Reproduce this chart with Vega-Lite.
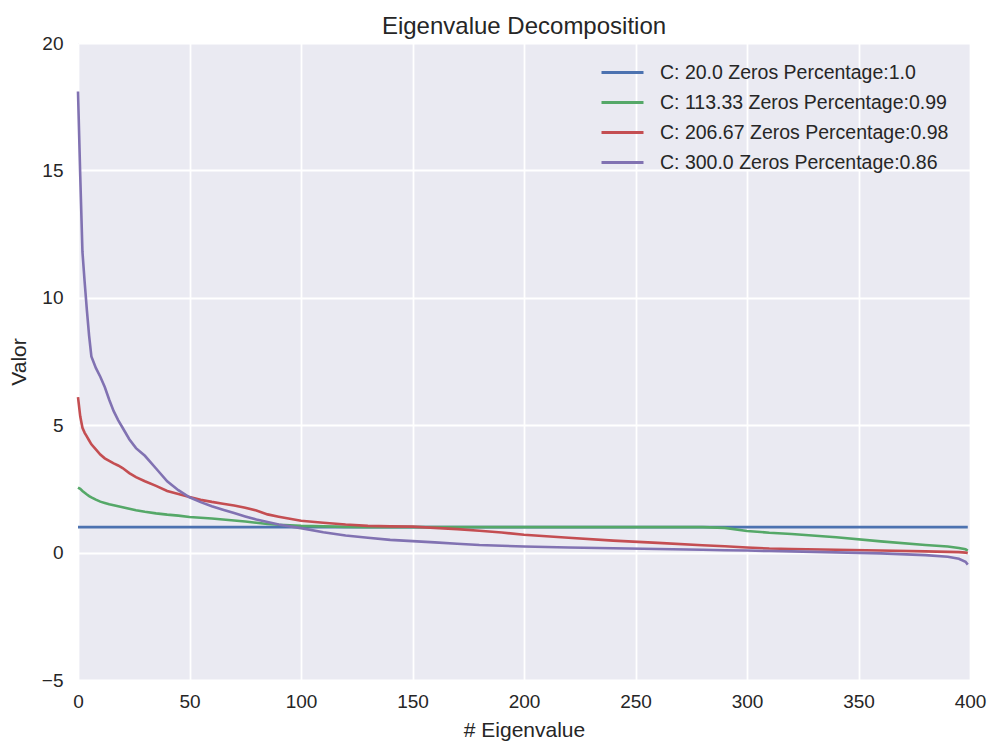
{
  "$schema": "https://vega.github.io/schema/vega-lite/v6.json",
  "width": 892,
  "height": 637,
  "autosize": {"type": "none"},
  "padding": {"left": 78, "top": 43, "right": 22, "bottom": 67},
  "background": "white",
  "title": {"text": "Eigenvalue Decomposition", "fontSize": 24, "font": "Liberation Sans", "fontWeight": "normal", "color": "#262626", "offset": -5},
  "data": {"values": [
    {"i": 0, "s1": 1, "s2": 2.55, "s3": 6.1, "s4": 18.1},
    {"i": 1, "s1": 1, "s2": 2.5, "s3": 5.35, "s4": 14.8},
    {"i": 2, "s1": 1, "s2": 2.42, "s3": 4.9, "s4": 11.8},
    {"i": 3, "s1": 1, "s2": 2.35, "s3": 4.7, "s4": 10.6},
    {"i": 4, "s1": 1, "s2": 2.28, "s3": 4.55, "s4": 9.5},
    {"i": 5, "s1": 1, "s2": 2.22, "s3": 4.4, "s4": 8.5},
    {"i": 6, "s1": 1, "s2": 2.17, "s3": 4.25, "s4": 7.7},
    {"i": 8, "s1": 1, "s2": 2.08, "s3": 4.05, "s4": 7.25},
    {"i": 10, "s1": 1, "s2": 2.0, "s3": 3.85, "s4": 6.9},
    {"i": 12, "s1": 1, "s2": 1.95, "s3": 3.7, "s4": 6.5},
    {"i": 14, "s1": 1, "s2": 1.9, "s3": 3.6, "s4": 6.0},
    {"i": 16, "s1": 1, "s2": 1.86, "s3": 3.5, "s4": 5.55},
    {"i": 18, "s1": 1, "s2": 1.82, "s3": 3.42, "s4": 5.2},
    {"i": 20, "s1": 1, "s2": 1.78, "s3": 3.32, "s4": 4.9},
    {"i": 23, "s1": 1, "s2": 1.72, "s3": 3.12, "s4": 4.45},
    {"i": 26, "s1": 1, "s2": 1.66, "s3": 2.96, "s4": 4.1},
    {"i": 30, "s1": 1, "s2": 1.6, "s3": 2.8, "s4": 3.8},
    {"i": 35, "s1": 1, "s2": 1.54, "s3": 2.62, "s4": 3.3},
    {"i": 40, "s1": 1, "s2": 1.49, "s3": 2.42, "s4": 2.8},
    {"i": 45, "s1": 1, "s2": 1.45, "s3": 2.3, "s4": 2.45},
    {"i": 50, "s1": 1, "s2": 1.4, "s3": 2.18, "s4": 2.17},
    {"i": 55, "s1": 1, "s2": 1.37, "s3": 2.07, "s4": 1.98},
    {"i": 60, "s1": 1, "s2": 1.34, "s3": 1.99, "s4": 1.82},
    {"i": 65, "s1": 1, "s2": 1.3, "s3": 1.92, "s4": 1.68},
    {"i": 70, "s1": 1, "s2": 1.26, "s3": 1.85, "s4": 1.55},
    {"i": 75, "s1": 1, "s2": 1.22, "s3": 1.76, "s4": 1.42},
    {"i": 80, "s1": 1, "s2": 1.17, "s3": 1.65, "s4": 1.3},
    {"i": 85, "s1": 1, "s2": 1.12, "s3": 1.5, "s4": 1.2},
    {"i": 90, "s1": 1, "s2": 1.09, "s3": 1.41, "s4": 1.1},
    {"i": 95, "s1": 1, "s2": 1.07, "s3": 1.33, "s4": 1.03},
    {"i": 100, "s1": 1, "s2": 1.05, "s3": 1.25, "s4": 0.96},
    {"i": 110, "s1": 1, "s2": 1.03, "s3": 1.17, "s4": 0.8},
    {"i": 120, "s1": 1, "s2": 1.01, "s3": 1.1, "s4": 0.67},
    {"i": 130, "s1": 1, "s2": 1.0, "s3": 1.05, "s4": 0.58},
    {"i": 140, "s1": 1, "s2": 1.0, "s3": 1.03, "s4": 0.5},
    {"i": 150, "s1": 1, "s2": 1.0, "s3": 1.02, "s4": 0.45},
    {"i": 160, "s1": 1, "s2": 1.0, "s3": 0.97, "s4": 0.4},
    {"i": 170, "s1": 1, "s2": 1.0, "s3": 0.92, "s4": 0.35},
    {"i": 180, "s1": 1, "s2": 1.0, "s3": 0.86, "s4": 0.3},
    {"i": 190, "s1": 1, "s2": 1.0, "s3": 0.79, "s4": 0.27},
    {"i": 200, "s1": 1, "s2": 1.0, "s3": 0.7, "s4": 0.24},
    {"i": 220, "s1": 1, "s2": 1.0, "s3": 0.58, "s4": 0.2},
    {"i": 240, "s1": 1, "s2": 1.0, "s3": 0.47, "s4": 0.17},
    {"i": 260, "s1": 1, "s2": 1.0, "s3": 0.38, "s4": 0.14},
    {"i": 280, "s1": 1, "s2": 1.0, "s3": 0.29, "s4": 0.11},
    {"i": 290, "s1": 1, "s2": 0.97, "s3": 0.25, "s4": 0.09},
    {"i": 300, "s1": 1, "s2": 0.85, "s3": 0.2, "s4": 0.08},
    {"i": 310, "s1": 1, "s2": 0.78, "s3": 0.16, "s4": 0.06},
    {"i": 320, "s1": 1, "s2": 0.73, "s3": 0.14, "s4": 0.05},
    {"i": 340, "s1": 1, "s2": 0.6, "s3": 0.11, "s4": 0.01},
    {"i": 360, "s1": 1, "s2": 0.44, "s3": 0.08, "s4": -0.03},
    {"i": 380, "s1": 1, "s2": 0.3, "s3": 0.05, "s4": -0.1},
    {"i": 390, "s1": 1, "s2": 0.24, "s3": 0.03, "s4": -0.16},
    {"i": 395, "s1": 1, "s2": 0.18, "s3": 0.02, "s4": -0.24},
    {"i": 398, "s1": 1, "s2": 0.13, "s3": 0.0, "s4": -0.36},
    {"i": 399, "s1": 1, "s2": 0.08, "s3": -0.02, "s4": -0.47}
  ]},
  "transform": [{"fold": ["s1", "s2", "s3", "s4"], "as": ["series", "value"]}],
  "mark": {"type": "line", "strokeWidth": 2.6},
  "encoding": {
    "x": {"field": "i", "type": "quantitative", "scale": {"domain": [0, 400], "nice": false, "zero": false},
      "axis": {"values": [0, 50, 100, 150, 200, 250, 300, 350, 400], "title": "# Eigenvalue", "labelPadding": 12, "titlePadding": 8, "labelFlush": false}},
    "y": {"field": "value", "type": "quantitative", "scale": {"domain": [-5, 20], "nice": false},
      "axis": {"values": [-5, 0, 5, 10, 15, 20], "title": "Valor", "labelPadding": 15, "titlePadding": 12, "labelFlush": false}},
    "color": {"field": "series", "type": "nominal",
      "scale": {"domain": ["s1", "s2", "s3", "s4"], "range": ["#4C72B0", "#55A868", "#C44E52", "#8172B2"]},
      "legend": {"title": null, "orient": "none", "legendX": 533, "legendY": 18,
        "symbolType": "M-2.1,0H2.1", "symbolSize": 400, "symbolStrokeWidth": 2.8,
        "labelFont": "Liberation Sans", "labelFontSize": 19.5, "labelColor": "#262626", "labelOffset": 26,
        "rowPadding": 9, "labelLimit": 500,
        "labelExpr": "datum.label == 's1' ? 'C: 20.0 Zeros Percentage:1.0' : datum.label == 's2' ? 'C: 113.33 Zeros Percentage:0.99' : datum.label == 's3' ? 'C: 206.67 Zeros Percentage:0.98' : 'C: 300.0 Zeros Percentage:0.86'"}}
  },
  "config": {
    "view": {"fill": "#EAEAF2", "stroke": null},
    "axis": {"domain": false, "ticks": false, "grid": true, "gridColor": "white", "gridWidth": 1.8, "gridOpacity": 1,
      "labelFont": "Liberation Sans", "labelFontSize": 19, "labelColor": "#262626",
      "titleFont": "Liberation Sans", "titleFontSize": 21, "titleFontWeight": "normal", "titleColor": "#262626"}
  }
}
